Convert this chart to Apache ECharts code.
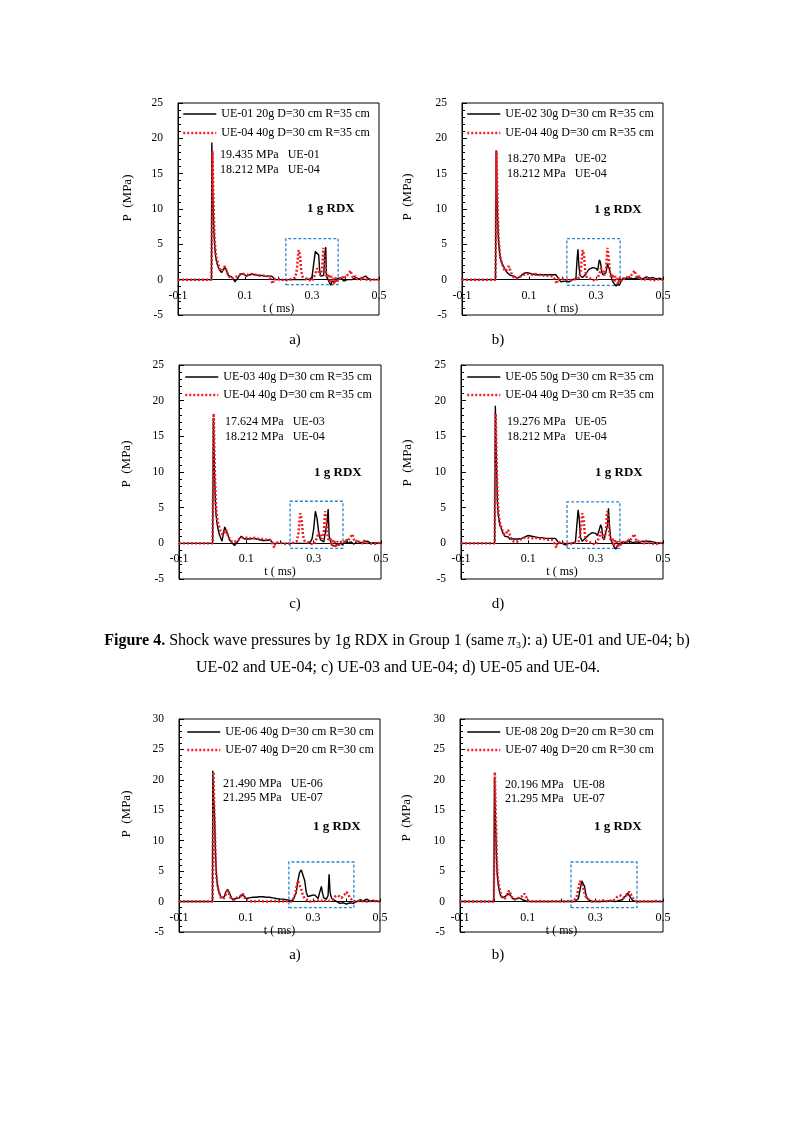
<!DOCTYPE html>
<html><head><meta charset="utf-8">
<script src="https://cdn.jsdelivr.net/npm/echarts/dist/echarts.min.js"></script>
<style>html,body{margin:0;padding:0;background:#fff}#c{width:793px;height:1122px}</style>
</head><body><div id="c"></div><script>
// ---------- DATA ----------
const ue01 = [[-0.1,0],[0,0],[0.001,19.4],[0.003,14],[0.005,10],[0.007,7],[0.01,4.5],[0.013,3],[0.017,2.2],[0.02,1.8],[0.025,1.3],[0.03,1.0],[0.035,1.4],[0.04,1.8],[0.045,1.3],[0.05,0.6],[0.055,0.5],[0.06,0.4],[0.065,0.1],[0.07,-0.3],[0.075,0],[0.08,0.3],[0.085,0.8],[0.09,1.0],[0.095,0.8],[0.1,0.6],[0.105,0.5],[0.11,0.6],[0.12,0.8],[0.13,0.7],[0.14,0.6],[0.15,0.6],[0.16,0.5],[0.17,0.5],[0.18,0.5],[0.185,0.3],[0.19,0],[0.2,0],[0.22,0],[0.25,0],[0.28,0],[0.295,0.1],[0.3,0.4],[0.305,2.2],[0.31,4.0],[0.315,3.8],[0.32,3.5],[0.323,1.2],[0.326,0.5],[0.33,0.4],[0.335,0.6],[0.338,3.5],[0.341,4.6],[0.343,0.5],[0.347,0.1],[0.35,-0.2],[0.353,-0.5],[0.356,-0.8],[0.36,-0.2],[0.365,0],[0.37,-0.3],[0.375,0.1],[0.38,-0.1],[0.385,0.3],[0.39,0.1],[0.395,-0.2],[0.4,-0.4],[0.405,0],[0.41,0.2],[0.42,0],[0.43,0.3],[0.44,0.1],[0.45,0.3],[0.46,0.5],[0.47,0.1],[0.48,0],[0.5,0]];
const ue02 = [[-0.1,0],[0,0],[0.002,18.3],[0.004,13],[0.006,9],[0.008,6.5],[0.01,5],[0.013,3.5],[0.016,2.8],[0.02,2.2],[0.025,1.8],[0.03,1.3],[0.035,1.0],[0.04,0.9],[0.045,0.6],[0.05,0.4],[0.055,0.5],[0.06,0.3],[0.065,0.2],[0.07,0.3],[0.075,0.5],[0.08,0.7],[0.085,0.9],[0.09,1.0],[0.095,1.0],[0.1,0.9],[0.11,0.8],[0.12,0.7],[0.13,0.7],[0.14,0.7],[0.15,0.7],[0.16,0.7],[0.17,0.7],[0.18,0.7],[0.185,0.4],[0.19,0],[0.195,-0.3],[0.2,-0.3],[0.21,-0.2],[0.22,-0.3],[0.23,0],[0.24,0.1],[0.243,2.5],[0.246,4.3],[0.249,2],[0.252,0.6],[0.26,0.3],[0.265,0.4],[0.27,0.8],[0.275,1.2],[0.28,1.5],[0.29,1.7],[0.3,1.6],[0.305,1.3],[0.31,2.8],[0.313,2.5],[0.317,1.2],[0.32,0.7],[0.325,0.9],[0.33,1.0],[0.334,2.2],[0.338,2.0],[0.342,1.2],[0.346,0.3],[0.35,-0.3],[0.355,-0.6],[0.36,-0.9],[0.365,-0.5],[0.37,-0.8],[0.375,-0.2],[0.38,0.2],[0.39,0.1],[0.4,0.3],[0.41,0.1],[0.42,0.2],[0.43,0.3],[0.44,0.1],[0.45,0.4],[0.46,0.2],[0.47,0.3],[0.48,0.1],[0.49,0.2],[0.5,0]];
const ue03 = [[-0.1,0],[0,0],[0.002,17.6],[0.004,13],[0.006,9],[0.008,6],[0.01,4],[0.013,2.8],[0.016,2],[0.02,1.2],[0.025,0.6],[0.028,0.3],[0.032,1.5],[0.036,2.3],[0.04,2.2],[0.045,1.2],[0.05,0.5],[0.055,0.2],[0.06,0],[0.065,-0.3],[0.07,0],[0.075,0.3],[0.08,0.7],[0.085,1.0],[0.09,0.8],[0.095,0.6],[0.1,0.5],[0.11,0.6],[0.12,0.7],[0.13,0.6],[0.14,0.5],[0.15,0.4],[0.16,0.4],[0.17,0.5],[0.175,0.4],[0.18,0],[0.19,0],[0.2,0],[0.22,0],[0.25,0],[0.27,0],[0.28,0],[0.29,0.2],[0.295,0.6],[0.3,2],[0.305,4.5],[0.31,3.5],[0.315,1.5],[0.32,0.5],[0.325,0.3],[0.33,0.2],[0.335,0.4],[0.34,3],[0.343,4.8],[0.346,1],[0.35,0.3],[0.355,-0.3],[0.36,-0.2],[0.365,-0.4],[0.37,0],[0.375,-0.3],[0.38,0.1],[0.385,-0.2],[0.39,0],[0.395,0.3],[0.4,0],[0.41,0.2],[0.42,-0.1],[0.43,0.3],[0.44,0.1],[0.45,0.2],[0.46,0.3],[0.47,0],[0.48,0.1],[0.5,0]];
const ue04 = [[-0.1,0],[-0.05,0],[0.0,0],[0.002,0.2],[0.003,18.2],[0.005,13],[0.007,9],[0.009,6],[0.012,4],[0.015,3],[0.02,2.2],[0.025,1.5],[0.03,1.2],[0.035,1.5],[0.04,1.9],[0.045,1.2],[0.05,0.6],[0.055,0.3],[0.06,0.1],[0.065,0.2],[0.07,0.4],[0.08,0.6],[0.09,0.8],[0.1,0.8],[0.11,0.7],[0.12,0.8],[0.13,0.7],[0.14,0.6],[0.15,0.6],[0.16,0.5],[0.17,0.5],[0.175,0.2],[0.18,0],[0.183,-0.6],[0.186,0.1],[0.19,0],[0.2,0.1],[0.21,0],[0.22,-0.1],[0.23,0],[0.24,0.1],[0.25,0.3],[0.255,1.5],[0.26,4.2],[0.264,3.5],[0.268,1.2],[0.272,0.4],[0.28,0.2],[0.29,0],[0.3,-0.2],[0.305,0.3],[0.31,0.8],[0.315,1.6],[0.32,1.2],[0.325,0.6],[0.33,1.5],[0.334,4.5],[0.338,3],[0.342,0.8],[0.346,0.3],[0.35,0.8],[0.354,-0.4],[0.358,0.5],[0.362,0.2],[0.366,-0.6],[0.37,0.3],[0.375,-0.2],[0.38,0.2],[0.385,0.4],[0.39,0.1],[0.395,0.6],[0.4,0.3],[0.405,0.5],[0.41,0.9],[0.415,1.3],[0.42,0.5],[0.425,0.2],[0.43,0.5],[0.435,0.1],[0.44,0.3],[0.445,0.0],[0.45,0.4],[0.455,0.1],[0.46,0.3],[0.465,0],[0.47,0.2],[0.48,-0.1],[0.49,0.1],[0.5,0]];
const ue05 = [[-0.1,0],[0,0],[0.002,19.3],[0.004,14],[0.006,10],[0.008,6],[0.01,4.3],[0.013,3.2],[0.016,2.5],[0.02,2],[0.025,1.4],[0.03,1.0],[0.035,0.8],[0.04,0.9],[0.045,0.6],[0.05,0.4],[0.055,0.6],[0.06,0.7],[0.07,0.6],[0.08,0.7],[0.09,0.9],[0.095,1.0],[0.1,1.1],[0.105,0.9],[0.11,1.0],[0.12,0.9],[0.13,0.8],[0.14,0.8],[0.15,0.7],[0.16,0.7],[0.17,0.7],[0.18,0.7],[0.185,0.4],[0.19,0.1],[0.2,0],[0.21,-0.2],[0.22,0],[0.23,0],[0.24,0.2],[0.244,2.5],[0.248,4.7],[0.251,3.5],[0.255,0.8],[0.26,0.3],[0.265,0.4],[0.27,0.7],[0.28,1.2],[0.29,1.5],[0.3,1.4],[0.305,1.1],[0.31,1.8],[0.315,2.6],[0.318,2.2],[0.321,0.8],[0.325,0.5],[0.33,0.5],[0.335,2.5],[0.338,4.9],[0.341,2.5],[0.345,0.5],[0.35,0],[0.355,-0.5],[0.36,-0.8],[0.365,-0.3],[0.37,-0.2],[0.38,0.2],[0.39,0.1],[0.4,0.3],[0.41,0.1],[0.42,0.2],[0.43,0.1],[0.44,0.3],[0.45,0.2],[0.46,0.3],[0.47,0.2],[0.48,0.1],[0.5,0]];
const ue06 = [[-0.1,0],[0,0],[0.001,21.5],[0.003,17],[0.005,15.5],[0.007,12],[0.009,8],[0.011,5],[0.014,3],[0.018,1.8],[0.022,1.2],[0.026,0.6],[0.03,0.4],[0.035,0.8],[0.04,1.6],[0.045,2],[0.05,1.5],[0.055,0.8],[0.06,0.3],[0.065,0.2],[0.07,0.5],[0.075,0.4],[0.08,0.6],[0.085,1.1],[0.09,1.3],[0.095,0.9],[0.1,0.5],[0.11,0.6],[0.12,0.7],[0.13,0.7],[0.14,0.8],[0.15,0.8],[0.16,0.7],[0.17,0.7],[0.18,0.6],[0.19,0.5],[0.2,0.4],[0.21,0.4],[0.22,0.3],[0.23,0.2],[0.24,0.2],[0.245,0.5],[0.25,1.5],[0.255,3.5],[0.26,4.8],[0.265,5.2],[0.27,5],[0.275,3.5],[0.28,1.5],[0.285,0.8],[0.29,0.5],[0.295,1.0],[0.3,1.3],[0.305,1.1],[0.31,0.8],[0.315,0.5],[0.32,0.8],[0.325,2.5],[0.328,1.5],[0.332,0.6],[0.336,0.7],[0.34,0.4],[0.345,1.0],[0.348,4.5],[0.351,1.5],[0.355,0.6],[0.36,0.3],[0.365,0.2],[0.37,-0.1],[0.38,-0.3],[0.39,-0.2],[0.4,-0.4],[0.41,-0.2],[0.42,-0.3],[0.43,0],[0.44,0.3],[0.45,0.1],[0.46,0.4],[0.47,0.1],[0.48,0.2],[0.5,0]];
const ue07 = [[-0.1,0],[-0.05,0],[0,0],[0.002,0.3],[0.003,21.3],[0.005,16],[0.007,12],[0.009,7],[0.011,4.5],[0.014,3],[0.018,1.8],[0.022,1.0],[0.026,0.5],[0.03,0.4],[0.035,0.6],[0.04,1.2],[0.045,1.8],[0.05,1.2],[0.055,0.5],[0.06,0.2],[0.065,0.3],[0.07,0.5],[0.075,0.7],[0.08,0.8],[0.085,0.9],[0.09,1.3],[0.095,0.8],[0.1,0.2],[0.105,0],[0.11,0.1],[0.12,0],[0.14,0.1],[0.16,0],[0.18,0.1],[0.2,0],[0.22,0.1],[0.235,0],[0.24,0.2],[0.245,0.8],[0.25,2.2],[0.255,3.4],[0.26,3.2],[0.265,2],[0.27,1],[0.275,0.5],[0.28,0.2],[0.29,0],[0.3,0.1],[0.31,0],[0.32,0.3],[0.33,0],[0.34,0.2],[0.35,0.1],[0.36,0.4],[0.365,0.8],[0.37,0.6],[0.375,1.0],[0.38,1.2],[0.385,0.6],[0.39,0.4],[0.395,1.2],[0.4,1.6],[0.405,1.2],[0.41,0.6],[0.415,0.3],[0.42,0.1],[0.43,0],[0.44,0.1],[0.46,0],[0.48,0.1],[0.5,0]];
const ue08 = [[-0.1,0],[0,0],[0.002,20.2],[0.004,15],[0.006,11],[0.008,7],[0.01,4.5],[0.013,2.8],[0.016,1.8],[0.02,1.0],[0.025,0.6],[0.03,0.5],[0.035,0.9],[0.04,1.3],[0.045,1.4],[0.05,1.0],[0.055,0.5],[0.06,0.3],[0.065,0.4],[0.07,0.7],[0.075,0.6],[0.08,0.4],[0.085,0.3],[0.09,0.1],[0.1,0],[0.12,0],[0.15,0],[0.2,0],[0.24,0],[0.25,0.5],[0.255,2],[0.26,3.4],[0.264,3.6],[0.268,2.5],[0.272,1.2],[0.276,0.5],[0.28,0.2],[0.29,0],[0.3,0],[0.32,0],[0.34,0.1],[0.36,0],[0.37,0.2],[0.38,0.3],[0.385,0.6],[0.39,1.0],[0.395,1.4],[0.4,1.3],[0.405,0.6],[0.41,0.2],[0.42,0],[0.44,0],[0.46,0],[0.5,0]];

// dashed highlight boxes [t1, p1, t2, p2]
const boxA = [0.222, -0.7, 0.378, 5.8];
const boxB = [0.213, -0.8, 0.372, 5.8];
const boxC = [0.23, -0.7, 0.387, 5.9];
const boxD = [0.215, -0.7, 0.372, 5.8];
const boxE = [0.228, -1.0, 0.422, 6.5];
const boxF = [0.228, -1.0, 0.423, 6.5];

const seriesNames = {
  ue01: 'UE-01 20g D=30 cm R=35 cm',
  ue02: 'UE-02 30g D=30 cm R=35 cm',
  ue03: 'UE-03 40g D=30 cm R=35 cm',
  ue04: 'UE-04 40g D=30 cm R=35 cm',
  ue05: 'UE-05 50g D=30 cm R=35 cm',
  ue06: 'UE-06 40g D=30 cm R=30 cm',
  ue07: 'UE-07 40g D=20 cm R=30 cm',
  ue08: 'UE-08 20g D=20 cm R=30 cm'
};
const peakA = ['19.435 MPa   UE-01', '18.212 MPa   UE-04'];
const peakB = ['18.270 MPa   UE-02', '18.212 MPa   UE-04'];
const peakC = ['17.624 MPa   UE-03', '18.212 MPa   UE-04'];
const peakD = ['19.276 MPa   UE-05', '18.212 MPa   UE-04'];
const peakE = ['21.490 MPa   UE-06', '21.295 MPa   UE-07'];
const peakF = ['20.196 MPa   UE-08', '21.295 MPa   UE-07'];
const xTicks = {min: -0.1, max: 0.5, step: 0.1};
const yTicksTop = {min: -5, max: 25, step: 5};
const yTicksBottom = {min: -5, max: 30, step: 5};
const chargeLabel = '1 g RDX';
const subLabels = ['a)', 'b)', 'c)', 'd)', 'a)', 'b)'];
const captionLine1 = '{b|Figure 4.} Shock wave pressures by 1g RDX in Group 1 (same {i|π}₃): a) UE-01 and UE-04; b)';
const captionLine2 = 'UE-02 and UE-04; c) UE-03 and UE-04; d) UE-05 and UE-04.';

// ---------- LAYOUT ----------
const FONT = '"Liberation Serif", "Times New Roman", serif';
const panels = [
  {grid:{left:178,top:103,width:201,height:212}, y:yTicksTop, black:'ue01', bd:ue01, red:'ue04', rd:ue04, box:boxA, leg:[182,108,7], peak:peakA, pk:[220,155,170], rdx:[307,209], yn:[128,198], sub:[295,340]},
  {grid:{left:462,top:103,width:201,height:212}, y:yTicksTop, black:'ue02', bd:ue02, red:'ue04', rd:ue04, box:boxB, leg:[466,108,7], peak:peakB, pk:[507,159,174], rdx:[594,210], yn:[408,197], sub:[498,340]},
  {grid:{left:179,top:365,width:202,height:214}, y:yTicksTop, black:'ue03', bd:ue03, red:'ue04', rd:ue04, box:boxC, leg:[184,371,6], peak:peakC, pk:[225,422,437], rdx:[314,473], yn:[127,464], sub:[295,604]},
  {grid:{left:461,top:365,width:202,height:214}, y:yTicksTop, black:'ue05', bd:ue05, red:'ue04', rd:ue04, box:boxD, leg:[466,371,6], peak:peakD, pk:[507,422,437], rdx:[595,473], yn:[408,463], sub:[498,604]},
  {grid:{left:179,top:719,width:201,height:213}, y:yTicksBottom, black:'ue06', bd:ue06, red:'ue07', rd:ue07, box:boxE, leg:[186,726,6], peak:peakE, pk:[223,784,798], rdx:[313,827], yn:[127,814], sub:[295,955]},
  {grid:{left:460,top:719,width:203,height:213}, y:yTicksBottom, black:'ue08', bd:ue08, red:'ue07', rd:ue07, box:boxF, leg:[466,726,6], peak:peakF, pk:[505,785,799], rdx:[594,827], yn:[407,818], sub:[498,955]}
];

const grids = [], xAxes = [], yAxes = [], series = [], legends = [], graphics = [];
const RED = '#ec1c24';
const blackLine = {color:'#000', width:1.4};
const redLine = {color:RED, width:2.5, type:[2,2]};
panels.forEach((p, i) => {
  grids.push(Object.assign({show:true, borderColor:'#000', borderWidth:1, backgroundColor:'transparent'}, p.grid));
  // axis line sits at P = 0 (offset inward from the bottom edge of the frame)
  const zeroOffset = -p.grid.height * (0 - p.y.min) / (p.y.max - p.y.min);
  xAxes.push({
    type:'value', gridIndex:i, min:xTicks.min, max:xTicks.max, interval:xTicks.step,
    position:'bottom', offset:zeroOffset,
    axisLine:{onZero:false, lineStyle:{color:'#000', width:1}},
    axisTick:{show:true, inside:true, length:3, lineStyle:{color:'#000'}},
    axisLabel:{margin:10, color:'#000', fontFamily:FONT, fontSize:12,
      formatter: v => { const k = Math.round(v * 10); return (k % 2 !== 0) ? (k / 10).toString() : ''; }},
    splitLine:{show:false},
    name:'t ( ms)', nameLocation:'middle', nameGap:23,
    nameTextStyle:{color:'#000', fontFamily:FONT, fontSize:12}
  });
  yAxes.push({
    type:'value', gridIndex:i, min:p.y.min, max:p.y.max, interval:p.y.step,
    axisLine:{show:true, onZero:false, lineStyle:{color:'#000', width:1}},
    axisTick:{show:true, inside:true, length:5, lineStyle:{color:'#000'}},
    minorTick:{show:true, splitNumber:5, length:3, lineStyle:{color:'#000'}},
    axisLabel:{margin:15, color:'#000', fontFamily:FONT, fontSize:11.5},
    splitLine:{show:false}
  });
  const bn = seriesNames[p.black], rn = seriesNames[p.red];
  series.push({
    type:'line', name:bn, xAxisIndex:i, yAxisIndex:i, data:p.bd, symbol:'none',
    lineStyle:blackLine, itemStyle:{color:'#000'}, z:3, silent:true,
    markArea:{silent:true, itemStyle:{color:'rgba(0,0,0,0)', borderColor:'#2b86d1', borderWidth:1.3, borderType:[3,2]},
      data:[[{coord:[p.box[0], p.box[1]]},{coord:[p.box[2], p.box[3]]}]]}
  });
  series.push({
    type:'line', name:rn, xAxisIndex:i, yAxisIndex:i, data:p.rd, symbol:'none',
    lineStyle:redLine, itemStyle:{color:RED}, z:4, silent:true
  });
  legends.push({
    left:p.leg[0], top:p.leg[1], orient:'vertical', itemGap:p.leg[2], padding:0,
    itemWidth:33, itemHeight:14, selectedMode:false,
    itemStyle:{opacity:0},
    textStyle:{color:'#000', fontFamily:FONT, fontSize:12},
    data:[{name:bn, lineStyle:{width:1.5, color:'#000'}}, {name:rn, lineStyle:{width:2.5, color:RED, type:[2,2]}}]
  });
  graphics.push({type:'text', x:p.pk[0], y:p.pk[1], style:{text:p.peak[0], fill:'#000', font:'12px ' + FONT, verticalAlign:'middle'}});
  graphics.push({type:'text', x:p.pk[0], y:p.pk[2], style:{text:p.peak[1], fill:'#000', font:'12px ' + FONT, verticalAlign:'middle'}});
  graphics.push({type:'text', x:p.rdx[0], y:p.rdx[1], style:{text:chargeLabel, fill:'#000', font:'bold 13px ' + FONT, verticalAlign:'middle'}});
  graphics.push({type:'text', x:p.yn[0], y:p.yn[1], rotation:Math.PI/2, style:{text:'P  (MPa)', fill:'#000', font:'13px ' + FONT, align:'center', verticalAlign:'middle'}});
  graphics.push({type:'text', x:p.sub[0], y:p.sub[1], style:{text:subLabels[i], fill:'#000', font:'15px ' + FONT, align:'center', verticalAlign:'middle'}});
});
graphics.push({type:'text', x:397, y:641, style:{text:captionLine1, fill:'#000', font:'16px ' + FONT, align:'center', verticalAlign:'middle',
  rich:{b:{fontWeight:'bold', fontSize:16, fontFamily:FONT}, i:{fontStyle:'italic', fontSize:16, fontFamily:FONT}}}});
graphics.push({type:'text', x:398, y:668, style:{text:captionLine2, fill:'#000', font:'16px ' + FONT, align:'center', verticalAlign:'middle'}});

const chart = echarts.init(document.getElementById('c'), null, {renderer:'canvas'});
chart.setOption({
  backgroundColor:'#fff', animation:false,
  grid:grids, xAxis:xAxes, yAxis:yAxes, series:series, legend:legends, graphic:graphics
});
</script></body></html>
